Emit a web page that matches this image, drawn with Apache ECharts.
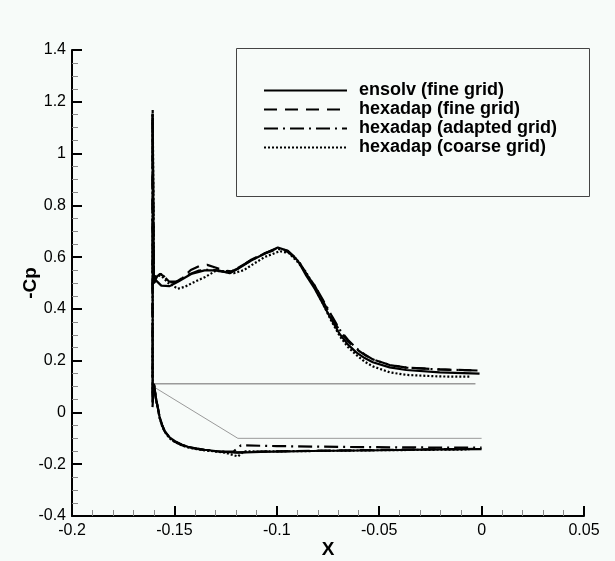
<!DOCTYPE html>
<html>
<head>
<meta charset="utf-8">
<script src="https://cdn.jsdelivr.net/npm/echarts@6/dist/echarts.min.js"></script>
<style>
html,body{margin:0;padding:0;background:#f7fbf9;}
#chart{width:615px;height:561px;}
</style>
</head>
<body>
<div id="chart"></div>
<script>
// ---- data ----
var seriesNames = ['ensolv (fine grid)', 'hexadap (fine grid)', 'hexadap (adapted grid)', 'hexadap (coarse grid)'];
var xTicks = [-0.2, -0.15, -0.1, -0.05, 0, 0.05];
var yTicks = [-0.4, -0.2, 0, 0.2, 0.4, 0.6, 0.8, 1, 1.2, 1.4];

// ensolv (fine grid)
var ensolvUpperX = [-0.1600,-0.1590,-0.1564,-0.1523,-0.1483,-0.1418,-0.1353,-0.1288,-0.1230,-0.1190,-0.1125,-0.1060,-0.0995,-0.0946,-0.0897,-0.0856,-0.0815,-0.0775,-0.0733,-0.0693,-0.0652,-0.0612,-0.0571,-0.0531,-0.0449,-0.0368,-0.0205,-0.0010];
var ensolvUpperY = [0.500,0.510,0.490,0.488,0.505,0.535,0.549,0.549,0.538,0.555,0.587,0.613,0.637,0.624,0.586,0.528,0.478,0.420,0.358,0.303,0.262,0.232,0.210,0.194,0.174,0.164,0.155,0.150];
var ensolvSpikeX = [-0.1606,-0.1606];
var ensolvSpikeY = [1.140,0.100];
var ensolvLowerX = [-0.1600,-0.1593,-0.1588,-0.1580,-0.1572,-0.1560,-0.1548,-0.1525,-0.1500,-0.1465,-0.1434,-0.1390,-0.1353,-0.1300,-0.1255,-0.1190,-0.1080,-0.0830,-0.0500,-0.0200,0.0000];
var ensolvLowerY = [0.110,0.070,0.045,0.015,-0.019,-0.048,-0.071,-0.095,-0.110,-0.124,-0.133,-0.140,-0.144,-0.149,-0.152,-0.155,-0.152,-0.149,-0.146,-0.143,-0.142];

// hexadap (fine grid)
var fineUpperX = [-0.1600,-0.1585,-0.1570,-0.1550,-0.1530,-0.1500,-0.1460,-0.1420,-0.1380,-0.1340,-0.1300,-0.1260,-0.1220,-0.1180,-0.1125,-0.1060,-0.0995,-0.0946,-0.0897,-0.0856,-0.0815,-0.0775,-0.0733,-0.0693,-0.0652,-0.0612,-0.0571,-0.0531,-0.0449,-0.0368,-0.0205,-0.0050];
var fineUpperY = [0.500,0.525,0.535,0.525,0.505,0.500,0.520,0.550,0.565,0.570,0.560,0.548,0.545,0.560,0.590,0.615,0.635,0.623,0.590,0.535,0.490,0.430,0.370,0.315,0.275,0.245,0.222,0.205,0.184,0.173,0.166,0.163];
var fineSpikeX = [-0.1607,-0.1607];
var fineSpikeY = [1.160,0.020];
var fineLowerX = [-0.1600,-0.1593,-0.1588,-0.1580,-0.1572,-0.1560,-0.1548,-0.1525,-0.1500,-0.1465,-0.1434,-0.1390,-0.1353,-0.1300,-0.1255,-0.1190,-0.1080,-0.0830,-0.0500,-0.0200,-0.0040];
var fineLowerY = [0.110,0.072,0.046,0.014,-0.020,-0.050,-0.072,-0.097,-0.112,-0.126,-0.134,-0.141,-0.146,-0.150,-0.153,-0.154,-0.151,-0.148,-0.145,-0.142,-0.141];

// hexadap (adapted grid)
var adaptUpperX = [-0.1600,-0.1585,-0.1570,-0.1550,-0.1525,-0.1490,-0.1440,-0.1380,-0.1320,-0.1270,-0.1230,-0.1190,-0.1125,-0.1060,-0.0995,-0.0946,-0.0897,-0.0856,-0.0815,-0.0775,-0.0733,-0.0693,-0.0652,-0.0612,-0.0571,-0.0531,-0.0449,-0.0368,-0.0205,-0.0020];
var adaptUpperY = [0.500,0.528,0.537,0.525,0.505,0.505,0.530,0.548,0.552,0.545,0.540,0.558,0.588,0.614,0.632,0.620,0.588,0.535,0.490,0.435,0.375,0.320,0.280,0.248,0.224,0.205,0.183,0.173,0.166,0.162];
var adaptSpikeX = [-0.1607,-0.1607];
var adaptSpikeY = [1.150,0.030];
var adaptLowerX = [-0.1600,-0.1593,-0.1588,-0.1580,-0.1572,-0.1560,-0.1548,-0.1525,-0.1500,-0.1465,-0.1434,-0.1390,-0.1353,-0.1300,-0.1255,-0.1210,-0.1175,-0.1000,-0.0700,-0.0400,0.0000];
var adaptLowerY = [0.110,0.071,0.045,0.015,-0.019,-0.049,-0.071,-0.096,-0.111,-0.125,-0.133,-0.140,-0.144,-0.149,-0.151,-0.150,-0.127,-0.130,-0.133,-0.135,-0.136];

// hexadap (coarse grid)
var coarseUpperX = [-0.1600,-0.1580,-0.1560,-0.1530,-0.1483,-0.1450,-0.1400,-0.1350,-0.1300,-0.1240,-0.1210,-0.1160,-0.1125,-0.1060,-0.0986,-0.0940,-0.0897,-0.0860,-0.0820,-0.0775,-0.0733,-0.0693,-0.0652,-0.0612,-0.0571,-0.0531,-0.0449,-0.0368,-0.0205,-0.0060];
var coarseUpperY = [0.523,0.530,0.525,0.500,0.478,0.485,0.505,0.523,0.546,0.546,0.538,0.550,0.568,0.600,0.623,0.615,0.580,0.545,0.490,0.420,0.352,0.295,0.252,0.222,0.196,0.178,0.155,0.145,0.139,0.138];
var coarseSpikeX = [-0.1606,-0.1606];
var coarseSpikeY = [1.170,0.040];
var coarseLowerX = [-0.1600,-0.1593,-0.1588,-0.1580,-0.1572,-0.1560,-0.1548,-0.1525,-0.1500,-0.1465,-0.1434,-0.1390,-0.1353,-0.1300,-0.1250,-0.1190,-0.1160,-0.1080,-0.0830,-0.0500,-0.0200,-0.0060];
var coarseLowerY = [0.105,0.068,0.043,0.012,-0.022,-0.052,-0.074,-0.099,-0.113,-0.127,-0.135,-0.142,-0.146,-0.151,-0.156,-0.170,-0.150,-0.151,-0.149,-0.146,-0.144,-0.143];

// geometry outline (thin gray)
var geomTopX = [-0.1605, -0.0030];
var geomTopY = [0.111, 0.111];
var geomBotX = [-0.1597, -0.1190, 0.0000];
var geomBotY = [0.097, -0.100, -0.100];

function pairs(xs, ys) { var out = []; for (var i = 0; i < xs.length; i++) out.push([xs[i], ys[i]]); return out; }
function path(ux, uy, sx, sy, lx, ly) {
  // upper surface from trailing edge to leading edge, spike, then lower surface
  var up = pairs(ux, uy).reverse();
  return up.concat(pairs(sx, sy)).concat(pairs(lx, ly));
}

var FONT = '"Liberation Sans", Arial, sans-serif';
var dashes = ['solid', [13, 8], [14, 5, 2, 5], [2, 2]];
var curveData = [
  path(ensolvUpperX, ensolvUpperY, ensolvSpikeX, ensolvSpikeY, ensolvLowerX, ensolvLowerY),
  path(fineUpperX, fineUpperY, fineSpikeX, fineSpikeY, fineLowerX, fineLowerY),
  path(adaptUpperX, adaptUpperY, adaptSpikeX, adaptSpikeY, adaptLowerX, adaptLowerY),
  path(coarseUpperX, coarseUpperY, coarseSpikeX, coarseSpikeY, coarseLowerX, coarseLowerY)
];

var series = [
  { name: 'geomTop', type: 'line', data: pairs(geomTopX, geomTopY), symbol: 'none', silent: true,
    lineStyle: { color: '#9a9a9a', width: 1.5 }, z: 1 },
  { name: 'geomBot', type: 'line', data: pairs(geomBotX, geomBotY), symbol: 'none', silent: true,
    lineStyle: { color: '#9a9a9a', width: 1 }, z: 1 }
];
for (var i = 0; i < seriesNames.length; i++) {
  series.push({
    name: seriesNames[i], type: 'line', data: curveData[i], symbol: 'none', animation: false,
    lineStyle: { color: '#000', width: 2.2, type: dashes[i] }, itemStyle: { color: '#000' }, z: 5 + (3 - i)
  });
}

var chart = echarts.init(document.getElementById('chart'), null, { renderer: 'canvas' });
chart.setOption({
  animation: false,
  backgroundColor: '#f7fbf9',
  grid: { left: 72, right: 31, top: 50, bottom: 45, containLabel: false, outerBoundsMode: 'none' },
  legend: {
    data: seriesNames, orient: 'vertical', left: 263, top: 81,
    itemWidth: 83, itemHeight: 14, itemGap: 0, padding: 0,
    itemStyle: { opacity: 0 },
    textStyle: { fontFamily: FONT, fontWeight: 'bold', fontSize: 18, lineHeight: 19, color: '#000', padding: [0, 0, 0, 7] }
  },
  graphic: [{
    type: 'rect', left: 234, top: 46, z: 100,
    shape: { width: 353, height: 148 },
    style: { fill: 'none', stroke: '#444', lineWidth: 1 }
  }],
  xAxis: {
    type: 'value', min: xTicks[0], max: xTicks[xTicks.length - 1], interval: 0.05,
    name: 'X', nameLocation: 'middle', nameGap: 24, nameMoveOverlap: false,
    nameTextStyle: { fontFamily: FONT, fontWeight: 'bold', fontSize: 19, color: '#000' },
    axisLine: { onZero: false, lineStyle: { color: '#000', width: 2 } },
    axisTick: { inside: true, length: 10, lineStyle: { color: '#000', width: 2 } },
    minorTick: { show: true, splitNumber: 5, length: 6, lineStyle: { color: '#888', width: 1 } },
    splitLine: { show: false },
    axisLabel: { fontFamily: FONT, fontSize: 16, color: '#000', margin: 7 }
  },
  yAxis: {
    type: 'value', min: yTicks[0], max: yTicks[yTicks.length - 1], interval: 0.2,
    name: '-Cp', nameLocation: 'middle', nameGap: 32, nameRotate: 90, nameMoveOverlap: false,
    nameTextStyle: { fontFamily: FONT, fontWeight: 'bold', fontSize: 19, color: '#000' },
    axisLine: { onZero: false, lineStyle: { color: '#000', width: 2 } },
    axisTick: { inside: true, length: 10, lineStyle: { color: '#000', width: 2 } },
    minorTick: { show: true, splitNumber: 4, length: 6, lineStyle: { color: '#888', width: 1 } },
    splitLine: { show: false },
    axisLabel: { fontFamily: FONT, fontSize: 16, color: '#000', margin: 6 }
  },
  series: series
});
</script>
</body>
</html>
